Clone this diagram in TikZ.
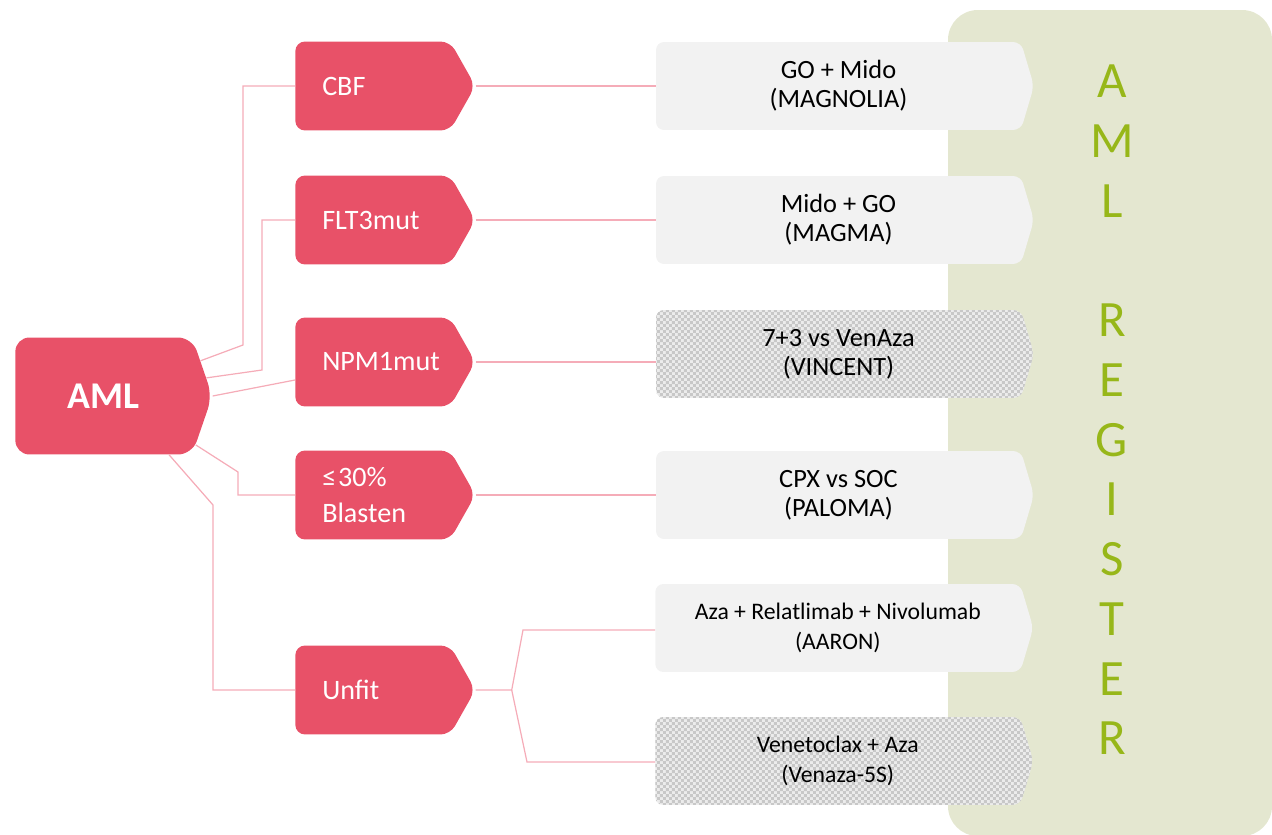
\documentclass[tikz,border=0pt]{standalone}
\usepackage{fontspec}
\setmainfont{Carlito}
\usetikzlibrary{shapes.symbols, patterns, positioning, calc}
\usepackage{xcolor}

\definecolor{amlred}{RGB}{232,81,104}
\definecolor{linkpink}{RGB}{245,172,184}
\definecolor{trialgray}{RGB}{242,242,242}
\definecolor{hatchlight}{RGB}{236,236,236}
\definecolor{hatchgray}{RGB}{200,200,200}
\definecolor{panelgreen}{RGB}{228,231,208}
\definecolor{regtext}{RGB}{151,183,25}

% fine checker for the hatched trials
\pgfdeclarepatternformonly{finechecker}{\pgfpointorigin}{\pgfqpoint{3.4pt}{3.4pt}}%
  {\pgfqpoint{3.4pt}{3.4pt}}{%
  \pgfpathrectangle{\pgfpointorigin}{\pgfqpoint{1.7pt}{1.7pt}}%
  \pgfpathrectangle{\pgfqpoint{1.7pt}{1.7pt}}{\pgfqpoint{1.7pt}{1.7pt}}%
  \pgfusepath{fill}}

\begin{document}
\begin{tikzpicture}[
    x=0.02cm, y=-0.02cm,
    base/.style={
      shape=signal, signal to=east, draw=none, inner sep=0pt
    },
    mainbox/.style={
      base, signal pointer angle=142,
      fill=amlred, text=white,
      minimum width=3.94cm, minimum height=2.34cm,
      rounded corners=8pt,
      font=\fontsize{21.5}{26}\selectfont\bfseries
    },
    catbox/.style={
      base, signal pointer angle=121,
      fill=amlred, text=white,
      minimum width=3.6cm, minimum height=1.78cm,
      rounded corners=5.5pt,
      text width=2.02cm, align=left,
      font=\fontsize{16}{20}\selectfont
    },
    trialbox/.style={
      base, signal pointer angle=147,
      fill=trialgray,
      minimum width=7.56cm, minimum height=1.76cm,
      rounded corners=4.5pt, align=center,
      font=\fontsize{15}{16.5}\selectfont
    },
    smalltrial/.style={font=\fontsize{13.5}{17}\selectfont},
    hatched/.style={
      trialbox, fill=none,
      preaction={fill=hatchlight},
      pattern=finechecker, pattern color=hatchgray
    },
    link/.style={draw=linkpink, line width=0.7pt}
  ]

    \useasboundingbox (0,0) rectangle (1272,835);

    % --- Register panel ---
    \fill[panelgreen, rounded corners=17pt] (948,10) rectangle (1272,836);
    \node[text=regtext, align=center, font=\fontsize{29}{34}\selectfont]
      (register) at (1112,410)
      {A\\M\\L\\\mbox{}\\R\\E\\G\\I\\S\\T\\E\\R};

    % --- Root ---
    \node[mainbox, anchor=west] (aml) at (15,396) {AML};

    % --- Subgroups ---
    \node[catbox, anchor=west] (cbf) at (295,86) {CBF};
    \node[catbox, anchor=west] (flt) at (295,220) {FLT3mut};
    \node[catbox, anchor=west] (npm) at (295,362) {NPM1mut};
    \node[catbox, anchor=west] (blast) at (295,495) {≤\kern1pt30\%\\Blasten};
    \node[catbox, anchor=west] (unfit) at (295,690) {Unfit};

    % --- Trials ---
    \node[trialbox, right=3.6cm of cbf] (magnolia) {GO + Mido\\(MAGNOLIA)};
    \node[trialbox, right=3.6cm of flt] (magma) {Mido + GO\\(MAGMA)};
    \node[hatched, right=3.6cm of npm, yshift=0.16cm] (vincent)
      {7+3 vs VenAza\\(VINCENT)};
    \node[trialbox, right=3.6cm of blast] (paloma) {CPX vs SOC\\(PALOMA)};
    \node[trialbox, smalltrial, anchor=west] (aaron) at (655,628)
      {Aza + Relatlimab + Nivolumab\\(AARON)};
    \node[hatched, smalltrial, anchor=west] (venaza) at (655,761)
      {Venetoclax + Aza\\(Venaza-5S)};

    % --- Root to subgroups ---
    \draw[link] (aml.20) -- (243,345) |- (cbf.west);
    \draw[link] (aml.10) -- (262,370) |- (flt.west);
    \draw[link] (aml.east) -- ($(npm.west)+(0,18)$);
    \draw[link] (aml.-28) -- (238,472) |- (blast.west);
    \draw[link] (aml.-42) -- (213,505) |- (unfit.west);

    % --- Subgroups to trials ---
    \draw[link] (cbf.east) -- (magnolia.west);
    \draw[link] (flt.east) -- (magma.west);
    \draw[link] (npm.east) -- (npm.east -| vincent.west);
    \draw[link] (blast.east) -- (paloma.west);

    % Unfit splits in two
    \draw[link] (unfit.east) -- ++(36,0) coordinate (fork)
      -- ($(aaron.west)+(-132,2)$) -- ($(aaron.west)+(0,2)$);
    \draw[link] (fork) -- ($(venaza.west)+(-128,1)$) -- ($(venaza.west)+(0,1)$);

  \end{tikzpicture}
\end{document}
